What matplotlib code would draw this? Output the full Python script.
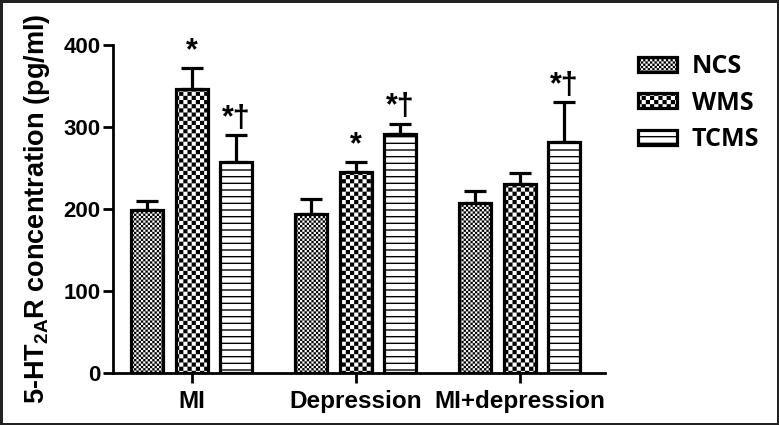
#!/usr/bin/env python3

import numpy as np
import matplotlib
matplotlib.use("Agg")
import matplotlib.pyplot as plt
import matplotlib.hatch as mhatch
from matplotlib.path import Path

groups = ["MI", "Depression", "MI+depression"]
series = ["NCS", "WMS", "TCMS"]
ncs = [199, 194, 207]
wms = [347, 245, 231]
tcms = [257, 292, 282]
ncs_err = [11, 18, 15]
wms_err = [25, 12, 13]
tcms_err = [33, 12, 48]
# significance marks, per group: NCS, WMS, TCMS
marks = [["", "*", "*\u2020"], ["", "*", "*\u2020"], ["", "", "*\u2020"]]


# custom hatches: 'o' fine checker, 'O' coarse checker, '-' stripes
class Checker(mhatch.HatchPatternBase):
    def __init__(self, hatch, density):
        self.cells = 0
        if "o" in hatch:
            self.cells = 44
        elif "O" in hatch:
            self.cells = 24
        self.num_vertices = 5 * (self.cells * self.cells // 2)

    def set_vertices_and_codes(self, vertices, codes):
        c = 1.0 / self.cells
        side = max(c - 0.0135, 0.002)
        pad = (c - side) / 2
        sq = np.array([[0, 0], [1, 0], [1, 1], [0, 1], [0, 0]]) * side + pad
        code = [Path.MOVETO, Path.LINETO, Path.LINETO, Path.LINETO, Path.CLOSEPOLY]
        vs, cs = [], []
        for i in range(self.cells):
            for j in range(self.cells):
                if (i + j) % 2 == 0:
                    vs.append(sq + [i * c, j * c])
                    cs.extend(code)
        vertices[:] = np.concatenate(vs)
        codes[:] = cs


class Stripes(mhatch.HatchPatternBase):
    def __init__(self, hatch, density):
        self.num_lines = hatch.count("-") * 15
        self.num_vertices = self.num_lines * 2

    def set_vertices_and_codes(self, vertices, codes):
        steps = np.linspace(0.0, 1.0, self.num_lines, endpoint=False)
        steps += 0.5 / self.num_lines
        vertices[0::2, 0] = 0.0
        vertices[0::2, 1] = steps
        vertices[1::2, 0] = 1.0
        vertices[1::2, 1] = steps
        codes[0::2] = Path.MOVETO
        codes[1::2] = Path.LINETO


mhatch._hatch_types = [Checker, Stripes]

plt.rcParams["font.family"] = ["Liberation Sans", "DejaVu Sans"]
plt.rcParams["font.weight"] = "bold"
plt.rcParams["mathtext.fontset"] = "custom"
plt.rcParams["mathtext.rm"] = "Liberation Sans:bold"
plt.rcParams["mathtext.bf"] = "Liberation Sans:bold"
plt.rcParams["hatch.linewidth"] = 1.0

fig = plt.figure(figsize=(7.79, 4.25), dpi=100)
fig.patch.set_edgecolor("#222222")
fig.patch.set_linewidth(2.5)
ax = fig.add_axes([0.145, 0.122, 0.632, 0.772])

x = np.arange(len(groups))
step = 0.271
width = 0.195
hatches = ["o", "O", "-"]
values = [ncs, wms, tcms]
errs = [ncs_err, wms_err, tcms_err]

for k in range(3):
    xs = x + (k - 1) * step
    ax.bar(xs, values[k], width, color="white", edgecolor="black",
           linewidth=2.3, hatch=hatches[k], label=series[k], zorder=2)
    ax.errorbar(xs, values[k], yerr=[np.zeros(3), errs[k]], fmt="none",
                ecolor="black", elinewidth=2.3, capsize=8, capthick=2.3,
                zorder=1)
    for g in range(3):
        if marks[g][k]:
            ax.text(xs[g], values[k][g] + errs[k][g] + 2, marks[g][k],
                    ha="center", va="bottom", fontsize=22, fontweight="bold")

ax.set_xlim(-0.48, 2.52)
ax.set_ylim(0, 400)
ax.set_yticks([0, 100, 200, 300, 400])
ax.set_xticks(x)
ax.set_xticklabels(groups, fontsize=17.5, fontweight="bold")
ax.tick_params(axis="y", labelsize=16, width=2, length=7, pad=2)
ax.tick_params(axis="x", width=2, length=7, pad=5)
for s in ["top", "right"]:
    ax.spines[s].set_visible(False)
for s in ["left", "bottom"]:
    ax.spines[s].set_linewidth(2)
ax.set_ylabel("5-HT$_{\\mathrm{2A}}$R concentration (pg/ml)", fontsize=19.5,
              fontweight="bold", labelpad=8)

fig.legend(loc="upper left", bbox_to_anchor=(0.79, 0.925), frameon=False,
           prop={"family": "Open Sans", "weight": "bold", "size": 18},
           handlelength=1.55, handleheight=0.55, handletextpad=0.6,
           labelspacing=0.45)

fig.savefig("out.png", dpi=100)
